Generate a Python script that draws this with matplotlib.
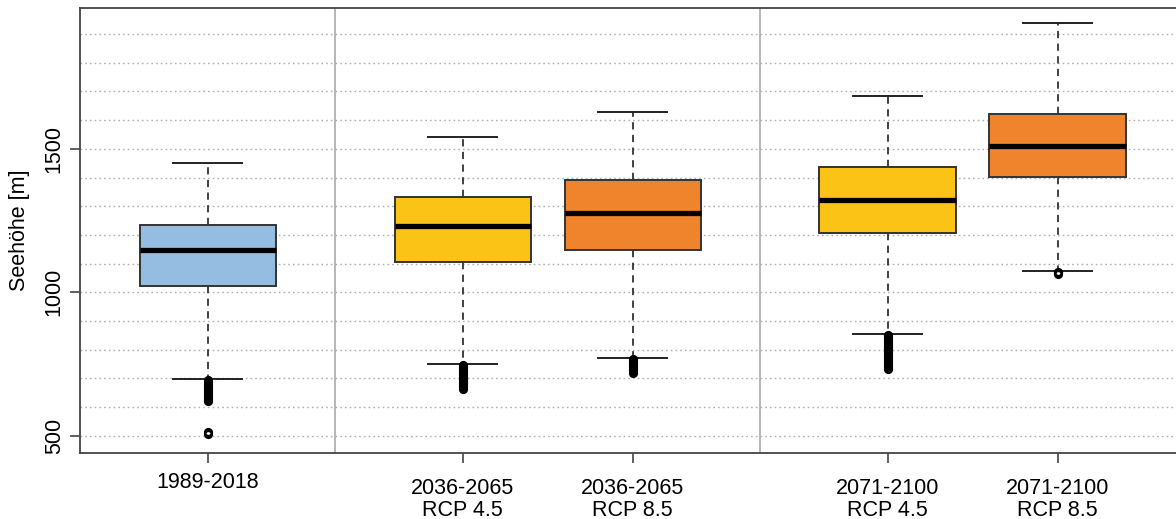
import matplotlib
matplotlib.use("Agg")
import matplotlib.pyplot as plt
import matplotlib.transforms as mtransforms

plt.rcParams["font.family"] = ["Liberation Sans", "DejaVu Sans"]

# Seehöhe statistics per period / scenario
labels = ["1989-2018", "2036-2065\nRCP 4.5", "2036-2065\nRCP 8.5",
          "2071-2100\nRCP 4.5", "2071-2100\nRCP 8.5"]
positions = [1, 2.5, 3.5, 5, 6]
whisker_low = [697, 749, 770, 853, 1074]
q1 = [1021, 1105, 1147, 1206, 1402]
median = [1147, 1231, 1276, 1322, 1510]
q3 = [1234, 1332, 1392, 1437, 1622]
whisker_high = [1451, 1542, 1629, 1685, 1940]
outliers = [
    [695, 688, 681, 674, 667, 660, 653, 646, 639, 632, 625, 620, 512, 505],
    [745, 738, 731, 724, 717, 710, 703, 696, 689, 682, 675, 668, 664],
    [767, 760, 753, 746, 739, 732, 725, 720],
    [850, 843, 836, 829, 822, 815, 808, 801, 794, 787, 780, 773, 766,
     759, 752, 745, 738, 733],
    [1072, 1068, 1065],
]
colors = ["#95BDE2", "#FBC315", "#F0842C", "#FBC315", "#F0842C"]

fig = plt.figure(figsize=(11.76, 5.19), dpi=100)
ax = fig.add_axes([80 / 1176, 1 - 452.7 / 519, 1110 / 1176, (452.7 - 8) / 519])

stats = []
for i in range(len(labels)):
    stats.append(dict(med=median[i], q1=q1[i], q3=q3[i],
                      whislo=whisker_low[i], whishi=whisker_high[i],
                      fliers=outliers[i]))

bp = ax.bxp(stats, positions=positions, widths=0.8, patch_artist=True,
            showfliers=True, capwidths=0.41,
            boxprops=dict(edgecolor="#333333", linewidth=1.4),
            medianprops=dict(color="black", linewidth=3.8, solid_capstyle="butt"),
            whiskerprops=dict(color="#333333", linestyle=(0, (4, 3)), linewidth=1.3),
            capprops=dict(color="#222222", linewidth=1.4),
            flierprops=dict(marker="o", markersize=5, markerfacecolor="none",
                            markeredgecolor="black", markeredgewidth=1.6))
for patch, c in zip(bp["boxes"], colors):
    patch.set_facecolor(c)
for b in bp["boxes"] + bp["medians"] + bp["whiskers"] + bp["caps"] + bp["fliers"]:
    b.set_zorder(3)

# horizontal dotted grid
for g in range(500, 2000, 100):
    ax.axhline(g, color="#b0b0b0", linestyle=(0, (1.2, 2.2)), linewidth=1.0, zorder=1)

# separators between the periods
for xs in (1.75, 4.25):
    ax.axvline(xs, color="#aaaaaa", linewidth=1.2, zorder=1)

ax.set_xlim(0.25, 0.25 + 1110 / 170)
ax.set_ylim(440.7, 1991)

fs = 15.5
ax.set_xticks(positions)
ax.set_xticklabels(labels, fontsize=fs, linespacing=1.05)
ax.set_yticks([500, 1000, 1500])
ax.set_yticklabels(["500", "1000", "1500"], fontsize=fs, rotation=90, va="center")
ax.tick_params(axis="both", direction="out", length=7, width=1.2, color="#444444")
ax.tick_params(axis="x", pad=11)
ax.tick_params(axis="y", pad=4)

# single-line label sits slightly higher
lbl0 = ax.get_xticklabels()[0]
lbl0.set_transform(lbl0.get_transform() +
                   mtransforms.ScaledTranslation(0, 6 / 100, fig.dpi_scale_trans))

ax.set_ylabel("Seehöhe [m]", fontsize=fs)
ax.yaxis.set_label_coords(-50 / 1110, 0.5)

for s in ax.spines.values():
    s.set_color("#444444")
    s.set_linewidth(1.3)

fig.savefig("out.png", dpi=100)
